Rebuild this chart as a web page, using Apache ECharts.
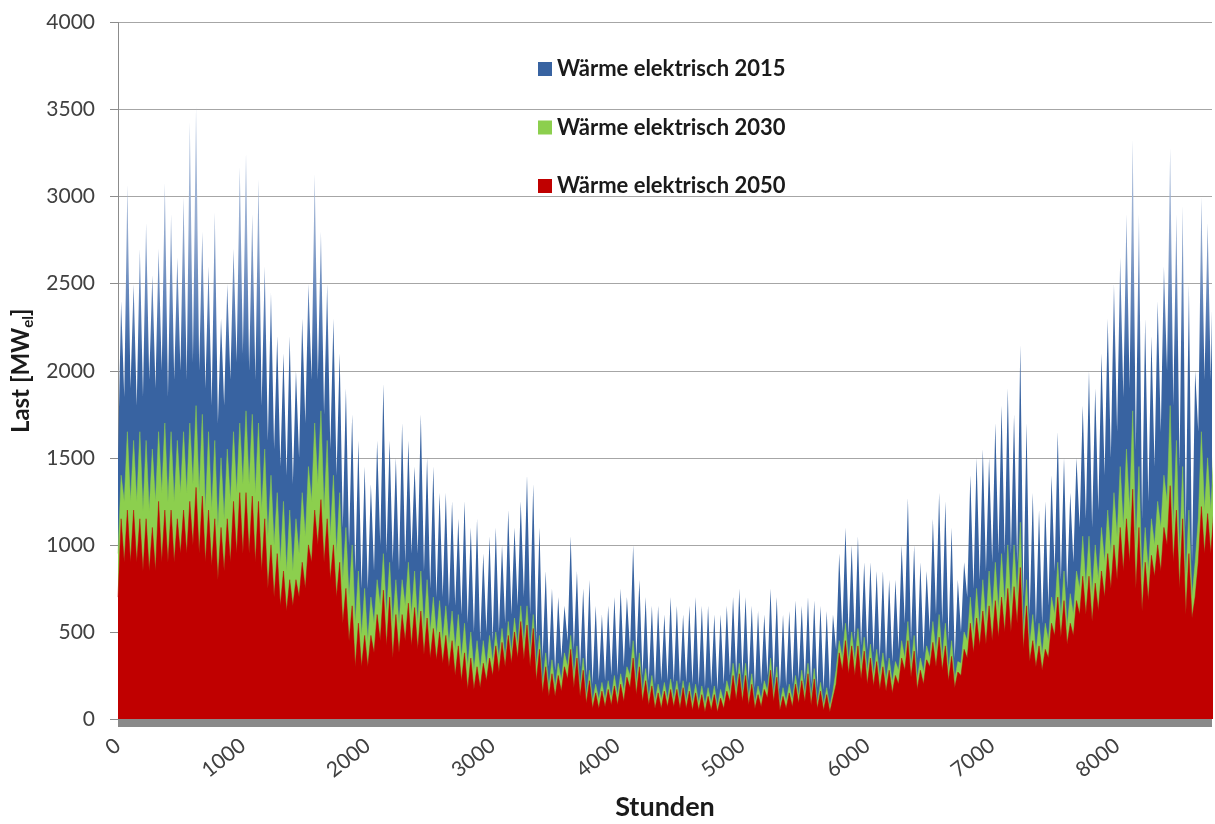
<!DOCTYPE html>
<html>
<head>
<meta charset="utf-8">
<script src="https://cdn.jsdelivr.net/npm/echarts@6/dist/echarts.min.js"></script>
<style>
html,body{margin:0;padding:0;background:#fff;}
#chart{width:1215px;height:824px;}
</style>
</head>
<body>
<div id="chart"></div>
<script>
// One value per 50-hour block of the year (block i starts at hour i*50).
// "Lo" = trough read in the block, "Hi" = spike top read in the block.
const HOURS_PER_BLOCK = 50;

const seriesNames = ['Wärme elektrisch 2015', 'Wärme elektrisch 2030', 'Wärme elektrisch 2050'];

const last2015Hi = [
  2400,3070, 2500,2700, 2850,2550, 2700,3080, 2900,2650,
  3000,3430, 3520,2800, 2600,2910, 2300,2500, 2700,3170,
  3250,2900, 3100,2600, 2450,2200, 2100,2200, 2000,2300,
  2500,3130, 2800,2500, 2300,2100, 1900,1750, 1600,1450,
  1350,1600, 1925,1600, 1500,1700, 1600,1450, 1750,1500,
  1450,1300, 1300,1250, 1150,1250, 1100,1150, 950,1050,
  1100,1000, 1200,1100, 1250,1400, 1350,1100, 850,750,
  700,650, 1050,850, 750,800, 650,600, 650,700,
  750,700, 1000,800, 700,650, 650,600, 700,650,
  600,650, 700,650, 650,600, 600,650, 700,750,
  700,650, 620,600, 750,700, 600,620, 680,650,
  700,680, 650,620, 600,950, 1100,1000, 1050,900,
  900,850, 850,800, 800,1000, 1270,1000, 900,850,
  1150,1300, 1250,1100, 800,900, 1400,1500, 1550,1500,
  1700,1800, 1900,1750, 2150,1700, 1300,1200, 1250,1400,
  1650,1500, 1300,1500, 1800,2000, 1900,2100, 2300,2500,
  2650,2900, 3330,2900, 2300,2200, 2400,2600, 3280,2900,
  2950,2500, 2000,3000, 2850,2950
];
const last2015Lo = [
  1500,1850, 1900,1800, 1850,1950, 1900,2000, 1850,1950,
  2000,1950, 2050,2000, 1900,1800, 1700,1800, 1950,2050,
  2100,2000, 1950,1800, 1600,1550, 1450,1400, 1350,1500,
  1700,1950, 1950,1750, 1550,1400, 1100,1000, 850,750,
  750,850, 1000,950, 900,850, 900,950, 950,850,
  750,700, 700,650, 650,600, 550,500, 450,500,
  450,500, 550,600, 650,700, 600,450, 350,300,
  280,350, 450,400, 300,250, 200,220, 220,250,
  250,300, 400,350, 250,220, 200,220, 220,210,
  200,210, 200,190, 180,190, 170,200, 250,260,
  250,220, 180,200, 250,230, 170,190, 200,230,
  220,200, 180,170, 170,400, 500,480, 450,420,
  400,380, 350,330, 330,400, 550,450, 350,380,
  500,600, 550,450, 350,500, 700,750, 800,850,
  900,950, 950,950, 900,700, 600,550, 550,650,
  850,800, 750,900, 1100,1150, 1100,1200, 1400,1500,
  1650,1850, 1900,1550, 1150,1250, 1450,1650, 2000,1800,
  1450,1100, 900,1650, 1950,1950
];
const last2030Hi = [
  1400,1650, 1600,1650, 1600,1550, 1650,1700, 1650,1600,
  1650,1700, 1800,1750, 1650,1600, 1500,1550, 1650,1700,
  1770,1750, 1700,1550, 1400,1300, 1250,1200, 1150,1300,
  1450,1700, 1770,1600, 1400,1300, 1100,1000, 850,750,
  700,800, 950,900, 800,800, 900,850, 850,800,
  700,680, 650,620, 600,550, 500,450, 450,480,
  500,520, 560,580, 650,650, 600,480, 380,340,
  320,380, 480,420, 350,280, 200,210, 220,250,
  260,300, 450,380, 290,250, 200,210, 230,220,
  220,210, 200,190, 180,190, 170,220, 320,320,
  320,260, 190,220, 350,300, 180,200, 250,280,
  320,290, 210,180, 160,450, 550,500, 520,470,
  430,400, 380,350, 330,450, 560,480, 350,420,
  560,600, 550,450, 330,500, 700,750, 800,850,
  900,950, 1000,1000, 1130,800, 600,550, 550,700,
  900,850, 720,850, 1050,1050, 1000,1100, 1200,1300,
  1450,1550, 1770,1450, 1100,1150, 1250,1400, 1800,1600,
  1450,1200, 900,1650, 1500,1550
];
const last2030Lo = [
  950,1250, 1250,1250, 1200,1200, 1250,1300, 1250,1250,
  1300,1300, 1350,1300, 1200,1200, 1100,1150, 1250,1300,
  1350,1350, 1300,1200, 1050,1000, 900,850, 850,950,
  1050,1250, 1350,1200, 1050,950, 800,700, 550,480,
  450,550, 650,600, 550,550, 650,600, 550,520,
  500,480, 450,430, 400,350, 300,280, 280,300,
  330,350, 350,380, 420,430, 380,300, 200,180,
  180,220, 300,250, 180,130, 100,110, 110,120,
  130,160, 250,200, 150,120, 100,110, 110,110,
  100,100, 90,90, 80,90, 70,100, 150,160,
  140,120, 90,110, 160,140, 80,100, 110,130,
  140,120, 90,80, 70,280, 350,330, 330,300,
  270,250, 240,220, 210,280, 350,300, 230,270,
  350,380, 350,280, 230,320, 450,480, 520,550,
  600,620, 650,650, 700,500, 420,380, 370,450,
  600,580, 530,600, 750,760, 720,800, 900,950,
  1050,1100, 1200,1000, 800,850, 1000,1100, 1250,1100,
  950,800, 700,1150, 1200,1200
];
const last2050Hi = [
  1150,1200, 1200,1150, 1150,1100, 1250,1200, 1200,1150,
  1200,1250, 1330,1280, 1200,1150, 1100,1150, 1250,1300,
  1300,1280, 1250,1150, 1000,950, 850,800, 800,900,
  1000,1200, 1260,1150, 1000,900, 750,650, 550,480,
  480,600, 740,700, 600,600, 665,640, 620,580,
  520,500, 480,450, 420,380, 350,300, 320,350,
  420,440, 480,500, 560,540, 520,400, 300,260,
  250,300, 400,350, 280,220, 150,160, 170,190,
  200,240, 350,300, 220,190, 150,160, 170,170,
  180,160, 150,140, 130,140, 120,160, 250,260,
  250,200, 140,170, 280,240, 130,150, 200,220,
  260,230, 160,140, 120,380, 450,420, 420,390,
  350,330, 300,280, 250,350, 450,390, 280,340,
  440,470, 420,360, 270,400, 550,580, 620,650,
  680,700, 750,760, 870,650, 450,420, 400,550,
  700,680, 550,680, 820,820, 780,850, 950,1000,
  1100,1150, 1320,1100, 900,940, 1000,1100, 1340,1200,
  1150,950, 700,1220, 1180,1200
];
const last2050Lo = [
  700,900, 900,900, 850,850, 850,900, 900,900,
  950,950, 1000,950, 900,880, 800,850, 900,950,
  950,950, 900,850, 750,700, 650,620, 650,700,
  750,900, 1000,900, 800,700, 550,450, 300,300,
  300,380, 450,420, 350,380, 450,420, 400,370,
  350,340, 320,300, 250,220, 170,170, 180,220,
  250,270, 300,320, 350,340, 300,220, 150,130,
  130,160, 230,180, 130,90, 60,60, 70,80,
  80,100, 180,140, 100,80, 60,60, 70,70,
  60,60, 50,50, 40,50, 40,60, 100,110,
  100,80, 60,70, 120,100, 50,60, 70,90,
  100,80, 60,50, 40,200, 280,260, 250,230,
  200,190, 170,160, 150,200, 280,240, 170,200,
  300,300, 280,220, 180,250, 350,380, 420,430,
  450,470, 500,500, 550,400, 330,300, 280,350,
  480,470, 430,480, 600,600, 560,620, 700,750,
  800,850, 900,750, 620,680, 820,850, 1000,900,
  750,600, 580,900, 950,950
];

const xTickLabels = ['0','1000','2000','3000','4000','5000','6000','7000','8000'];
const yTickLabels = ['0','500','1000','1500','2000','2500','3000','3500','4000'];

// trough at the block start, spike top in the middle of the block
function blockSeries(lo, hi) {
  const out = [];
  for (let i = 0; i < lo.length; i++) {
    out.push([i * HOURS_PER_BLOCK, lo[i]]);
    out.push([i * HOURS_PER_BLOCK + HOURS_PER_BLOCK / 2, hi[i]]);
  }
  return out;
}

const colors = ['#3863A1', '#8CCF4E', '#C00000'];
const FONT = 'Lato';

const chart = echarts.init(document.getElementById('chart'), null, {renderer: 'canvas'});

function mk(name, data, color, z, area, lineW) {
  return {
    type: 'line', name: name, data: data, z: z,
    symbol: 'none', showSymbol: false, animation: false,
    lineStyle: {width: lineW, color: color},
    itemStyle: {color: color},
    areaStyle: {color: area, opacity: 1}
  };
}

const blueArea = new echarts.graphic.LinearGradient(0, 0, 0, 1, [
  {offset: 0, color: '#b3c4de'},
  {offset: 0.2, color: '#94abd0'},
  {offset: 0.33, color: '#5c80b7'},
  {offset: 0.42, color: '#3863A1'},
  {offset: 1, color: '#3863A1'}
]);

chart.setOption({
  animation: false,
  backgroundColor: '#ffffff',
  grid: {left: 118, right: 3, top: 22.5, bottom: 105, outerBoundsMode: 'none', containLabel: false},
  legend: {
    orient: 'vertical', left: 538, top: 58, padding: 0,
    itemWidth: 14, itemHeight: 14, itemGap: 36.5, icon: 'rect',
    data: seriesNames,
    textStyle: {fontFamily: FONT, fontWeight: 'bold', fontSize: 22, lineHeight: 22, color: '#1a1a1a'}
  },
  xAxis: {
    type: 'value', min: 0, max: 8760, interval: 1000,
    offset: 4, z: 10,
    name: 'Stunden', nameLocation: 'middle', nameGap: 71,
    nameTextStyle: {fontFamily: FONT, fontWeight: 'bold', fontSize: 27, color: '#1a1a1a'},
    axisLine: {show: true, onZero: false, lineStyle: {color: '#8a8a8a', width: 8, cap: 'butt'}},
    axisTick: {show: false},
    splitLine: {show: false},
    axisLabel: {
      rotate: 38, margin: 20, fontFamily: FONT, fontSize: 21, color: '#404040',
      showMaxLabel: false,
      formatter: function (v) { const i = xTickLabels.indexOf(String(v)); return i >= 0 ? xTickLabels[i] : ''; }
    }
  },
  yAxis: {
    type: 'value', min: 0, max: 4000, interval: 500,
    name: '{a|Last [MW}{b|el}{a|]}', nameLocation: 'middle', nameRotate: 90, nameGap: 76,
    nameTextStyle: {
      rich: {
        a: {fontFamily: FONT, fontWeight: 'bold', fontSize: 24, lineHeight: 28, color: '#1a1a1a'},
        b: {fontFamily: FONT, fontWeight: 'bold', fontSize: 15, lineHeight: 15, verticalAlign: 'bottom', color: '#1a1a1a'}
      }
    },
    axisLine: {show: true, lineStyle: {color: '#8c8c8c', width: 1}},
    axisTick: {show: true, length: 8, lineStyle: {color: '#8c8c8c'}},
    splitLine: {show: true, lineStyle: {color: '#a6a6a6', width: 1.2}},
    axisLabel: {
      margin: 23, fontFamily: FONT, fontSize: 21, color: '#404040',
      formatter: function (v) { const i = yTickLabels.indexOf(String(v)); return i >= 0 ? yTickLabels[i] : ''; }
    }
  },
  series: [
    mk(seriesNames[0], blockSeries(last2015Lo, last2015Hi), colors[0], 2, blueArea, 0),
    mk(seriesNames[1], blockSeries(last2030Lo, last2030Hi), colors[1], 3, colors[1], 0.5),
    mk(seriesNames[2], blockSeries(last2050Lo, last2050Hi), colors[2], 4, colors[2], 0.5)
  ]
});
</script>
</body>
</html>
